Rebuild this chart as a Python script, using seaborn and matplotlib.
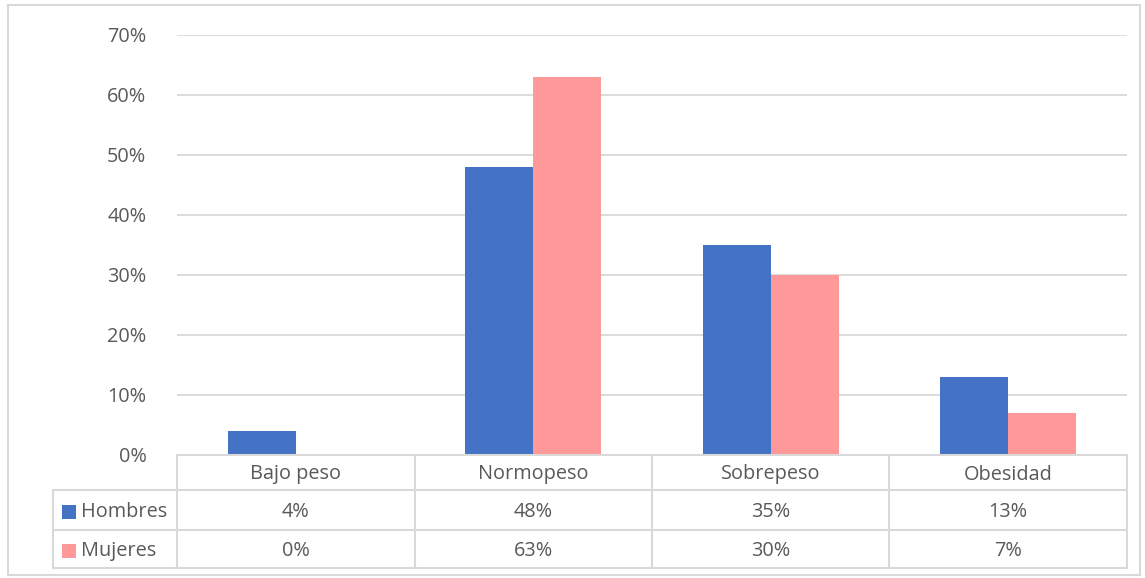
import matplotlib
matplotlib.use("Agg")
import matplotlib.pyplot as plt
import matplotlib.transforms as mtransforms
from matplotlib.patches import Rectangle
import numpy as np
import pandas as pd
import seaborn as sns

categories = ["Bajo peso", "Normopeso", "Sobrepeso", "Obesidad"]
series_names = ["Hombres", "Mujeres"]
hombres = [0.04, 0.48, 0.35, 0.13]
mujeres = [0.00, 0.63, 0.30, 0.07]
y_ticks = [0.0, 0.1, 0.2, 0.3, 0.4, 0.5, 0.6, 0.7]

colors = {"Hombres": "#4472C4", "Mujeres": "#FF9999"}
text_color = "#595959"
line_color = "#D9D9D9"

sns.set_theme(style="white")
plt.rcParams["font.family"] = ["Open Sans", "DejaVu Sans"]

W, H = 1145, 578
fig = plt.figure(figsize=(W / 100, H / 100), dpi=100)

def fy(py):
    return 1 - py / H

def fx(px):
    return px / W

# plot area
left, right, top, bottom = 177, 1127, 35, 455
ax = fig.add_axes([fx(left), fy(bottom), fx(right) - fx(left), fy(top) - fy(bottom)])

df = pd.DataFrame({
    "Categoría": categories * 2,
    "Serie": [series_names[0]] * 4 + [series_names[1]] * 4,
    "Valor": hombres + mujeres,
})
sns.barplot(data=df, x="Categoría", y="Valor", hue="Serie", order=categories,
            hue_order=series_names, palette=colors, width=0.573, gap=0,
            saturation=1, legend=False, ax=ax, linewidth=0)

fs = 14.3
ax.set_xlim(-0.5, len(categories) - 0.5)
ax.set_ylim(0, 0.7)
ax.set_yticks(y_ticks)
ax.set_yticklabels([f"{t*100:.0f}%" for t in y_ticks], fontsize=fs, color=text_color)
ax.tick_params(axis="y", length=0, pad=22)
ax.set_xticks([])
ax.set_xlabel("")
ax.set_ylabel("")
for s in ax.spines.values():
    s.set_visible(False)
ax.yaxis.grid(True, color=line_color, linewidth=1.3)
ax.set_axisbelow(True)

# data table below the plot area
trans = mtransforms.blended_transform_factory(ax.transData, fig.transFigure)
row_edges = [455, 490, 530, 568]
key_left = 53
lw = 1.5
line_kw = dict(color=line_color, linewidth=lw, transform=fig.transFigure, clip_on=False)
fig.add_artist(plt.Line2D([fx(left), fx(right)], [fy(row_edges[0])] * 2, **line_kw))
for py in row_edges[1:]:
    fig.add_artist(plt.Line2D([fx(key_left), fx(right)], [fy(py)] * 2, **line_kw))
for b in np.arange(-0.5, len(categories), 1.0):
    fig.add_artist(plt.Line2D([b, b], [fy(row_edges[0]), fy(row_edges[-1])],
                              color=line_color, linewidth=lw, transform=trans, clip_on=False))
fig.add_artist(plt.Line2D([fx(key_left)] * 2, [fy(row_edges[1]), fy(row_edges[-1])], **line_kw))

# header row
for i, c in enumerate(categories):
    fig.text(i, fy((row_edges[0] + row_edges[1]) / 2 + 2), c, transform=trans,
             ha="center", va="center", fontsize=fs, color=text_color)
# value rows with legend keys
for r, (name, vals) in enumerate(zip(series_names, [hombres, mujeres])):
    yc = fy((row_edges[r + 1] + row_edges[r + 2]) / 2 + 2)
    fig.add_artist(Rectangle((fx(62), yc - 7 / H), 14 / W, 14 / H,
                             transform=fig.transFigure, color=colors[name], linewidth=0))
    fig.text(fx(81), yc, name, ha="left", va="center", fontsize=fs, color=text_color)
    for i, v in enumerate(vals):
        fig.text(i, yc, f"{v*100:.0f}%", transform=trans, ha="center", va="center",
                 fontsize=fs, color=text_color)

# chart border
fig.add_artist(Rectangle((fx(8), fy(575)), fx(1140) - fx(8), fy(5) - fy(575),
                         transform=fig.transFigure, fill=False,
                         edgecolor=line_color, linewidth=1.5))

fig.savefig("out.png", dpi=100, facecolor="white")
